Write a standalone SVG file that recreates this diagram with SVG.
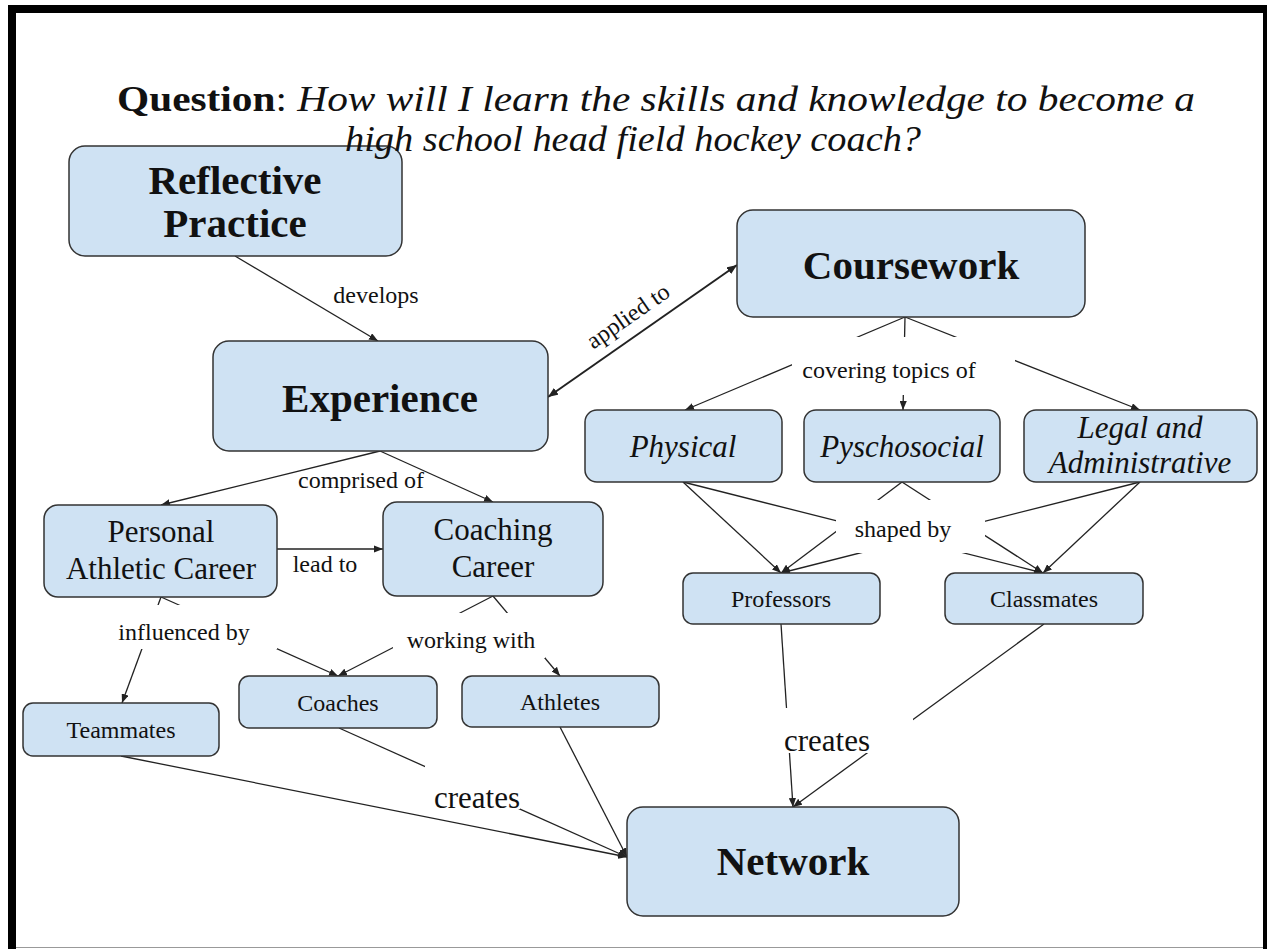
<svg xmlns="http://www.w3.org/2000/svg" width="1267" height="949" viewBox="0 0 1267 949">
  <style>
    text { font-family: "Liberation Serif", "Times New Roman", serif; fill: #111; text-anchor: middle; }
    .title { font-size: 36px; }
    .big { font-size: 41px; font-weight: bold; }
    .mid { font-size: 31px; }
    .midi { font-size: 31px; font-style: italic; }
    .small { font-size: 24px; }
    .lbl { font-size: 24px; }
    .lbl-lg { font-size: 31px; }
    .node rect { fill: #cfe2f3; stroke: #333; stroke-width: 1.5; }
    .edge { stroke: #222; stroke-width: 1.3; fill: none; }
    .arrow { marker-end: url(#ah); }
    .both { stroke-width: 2; marker-start: url(#ah2); marker-end: url(#ah2); }
    .gap { fill: #fff; }
  </style>
  <defs>
    <marker id="ah" viewBox="0 0 10 8" refX="10" refY="4" markerWidth="9" markerHeight="7.2" markerUnits="userSpaceOnUse" orient="auto">
      <path d="M0,0 L10,4 L0,8 z" fill="#222"/>
    </marker>
    <marker id="ah2" viewBox="0 0 10 8" refX="10" refY="4" markerWidth="10" markerHeight="8" markerUnits="userSpaceOnUse" orient="auto-start-reverse">
      <path d="M0,0 L10,4 L0,8 z" fill="#222"/>
    </marker>
  </defs>

  <!-- page background and frame -->
  <rect x="0" y="0" width="1267" height="949" fill="#fff"/>
  <rect x="8" y="5" width="1259" height="8" fill="#000"/>
  <rect x="8" y="5" width="8" height="944" fill="#000"/>
  <rect x="1263" y="5" width="4" height="944" fill="#000"/>
  <line x1="16" y1="947.5" x2="1263" y2="947.5" stroke="#999" stroke-width="1"/>

  <!-- connectors -->
  <g id="connectors">
    <line class="edge arrow" x1="235" y1="256" x2="378" y2="341"/>
    <line class="edge both" x1="548" y1="397" x2="737" y2="265"/>
    <line class="edge arrow" x1="905" y1="317" x2="685" y2="410"/>
    <line class="edge arrow" x1="905" y1="317" x2="903" y2="410"/>
    <line class="edge arrow" x1="905" y1="317" x2="1140" y2="410"/>
    <line class="edge arrow" x1="380" y1="451" x2="161" y2="505"/>
    <line class="edge arrow" x1="380" y1="451" x2="493" y2="502"/>
    <line class="edge arrow" x1="277" y1="549" x2="383" y2="549"/>
    <line class="edge arrow" x1="161" y1="597" x2="122" y2="703"/>
    <line class="edge arrow" x1="161" y1="597" x2="338" y2="676"/>
    <line class="edge arrow" x1="493" y1="596" x2="338" y2="676"/>
    <line class="edge arrow" x1="493" y1="596" x2="560" y2="676"/>
    <line class="edge arrow" x1="683" y1="482" x2="781" y2="573"/>
    <line class="edge arrow" x1="683" y1="482" x2="1043" y2="573"/>
    <line class="edge arrow" x1="902" y1="482" x2="781" y2="573"/>
    <line class="edge arrow" x1="902" y1="482" x2="1043" y2="573"/>
    <line class="edge arrow" x1="1140" y1="482" x2="781" y2="573"/>
    <line class="edge arrow" x1="1140" y1="482" x2="1043" y2="573"/>
    <line class="edge arrow" x1="781" y1="624" x2="793" y2="807"/>
    <line class="edge arrow" x1="1044" y1="624" x2="793" y2="807"/>
    <line class="edge arrow" x1="121" y1="756" x2="627" y2="857"/>
    <line class="edge arrow" x1="339" y1="728" x2="627" y2="857"/>
    <line class="edge arrow" x1="560" y1="727" x2="627" y2="857"/>

    <!-- linking phrases, each on a white patch that breaks the lines behind it -->
    <rect class="gap" x="792" y="337" width="223" height="58"/>
    <rect class="gap" x="110" y="605" width="167" height="44"/>
    <rect class="gap" x="393" y="613" width="152" height="45"/>
    <rect class="gap" x="836" y="500" width="149" height="53"/>
    <rect class="gap" x="775" y="708" width="138" height="45"/>
    <rect class="gap" x="425" y="766" width="95" height="43"/>

    <text class="lbl" x="376" y="303">develops</text>
    <text class="lbl" x="628" y="324" transform="rotate(-34.7 628 316)">applied to</text>
    <text class="lbl" x="889" y="378">covering topics of</text>
    <text class="lbl" x="361" y="488">comprised of</text>
    <text class="lbl" x="325" y="572">lead to</text>
    <text class="lbl" x="184" y="640">influenced by</text>
    <text class="lbl" x="471" y="648">working with</text>
    <text class="lbl" x="903" y="537">shaped by</text>
    <text class="lbl-lg" x="827" y="751">creates</text>
    <text class="lbl-lg" x="477" y="808">creates</text>
  </g>

  <!-- concepts -->
  <g id="reflective-practice" class="node">
    <rect x="69" y="146" width="333" height="110" rx="16"/>
    <text class="big" x="235" y="194">Reflective</text>
    <text class="big" x="235" y="237">Practice</text>
  </g>
  <g id="coursework" class="node">
    <rect x="737" y="210" width="348" height="107" rx="16"/>
    <text class="big" x="911" y="279">Coursework</text>
  </g>
  <g id="experience" class="node">
    <rect x="213" y="341" width="335" height="110" rx="16"/>
    <text class="big" x="380" y="412">Experience</text>
  </g>
  <g id="personal-athletic-career" class="node">
    <rect x="44" y="505" width="233" height="92" rx="14"/>
    <text class="mid" x="161" y="542">Personal</text>
    <text class="mid" x="161" y="579">Athletic Career</text>
  </g>
  <g id="coaching-career" class="node">
    <rect x="383" y="502" width="220" height="94" rx="14"/>
    <text class="mid" x="493" y="540">Coaching</text>
    <text class="mid" x="493" y="577">Career</text>
  </g>
  <g id="physical" class="node">
    <rect x="585" y="410" width="197" height="72" rx="12"/>
    <text class="midi" x="683" y="457">Physical</text>
  </g>
  <g id="pyschosocial" class="node">
    <rect x="804" y="410" width="196" height="72" rx="12"/>
    <text class="midi" x="902" y="457">Pyschosocial</text>
  </g>
  <g id="legal-administrative" class="node">
    <rect x="1024" y="410" width="233" height="72" rx="12"/>
    <text class="midi" x="1140" y="438">Legal and</text>
    <text class="midi" x="1140" y="473">Administrative</text>
  </g>
  <g id="professors" class="node">
    <rect x="683" y="573" width="197" height="51" rx="10"/>
    <text class="small" x="781" y="607">Professors</text>
  </g>
  <g id="classmates" class="node">
    <rect x="945" y="573" width="198" height="51" rx="10"/>
    <text class="small" x="1044" y="607">Classmates</text>
  </g>
  <g id="teammates" class="node">
    <rect x="23" y="703" width="196" height="53" rx="10"/>
    <text class="small" x="121" y="738">Teammates</text>
  </g>
  <g id="coaches" class="node">
    <rect x="239" y="676" width="198" height="52" rx="10"/>
    <text class="small" x="338" y="711">Coaches</text>
  </g>
  <g id="athletes" class="node">
    <rect x="462" y="676" width="197" height="51" rx="10"/>
    <text class="small" x="560" y="710">Athletes</text>
  </g>
  <g id="network" class="node">
    <rect x="627" y="807" width="332" height="109" rx="16"/>
    <text class="big" x="793" y="875">Network</text>
  </g>

  <!-- heading, drawn last so its descenders sit over the first box -->
  <g id="title">
    <text class="title" x="656" y="111" textLength="1078" lengthAdjust="spacingAndGlyphs"><tspan font-weight="bold">Question</tspan>: <tspan font-style="italic">How will I learn the skills and knowledge to become a</tspan></text>
    <text class="title" x="633" y="151" font-style="italic" textLength="576" lengthAdjust="spacingAndGlyphs">high school head field hockey coach?</text>
  </g>
</svg>
